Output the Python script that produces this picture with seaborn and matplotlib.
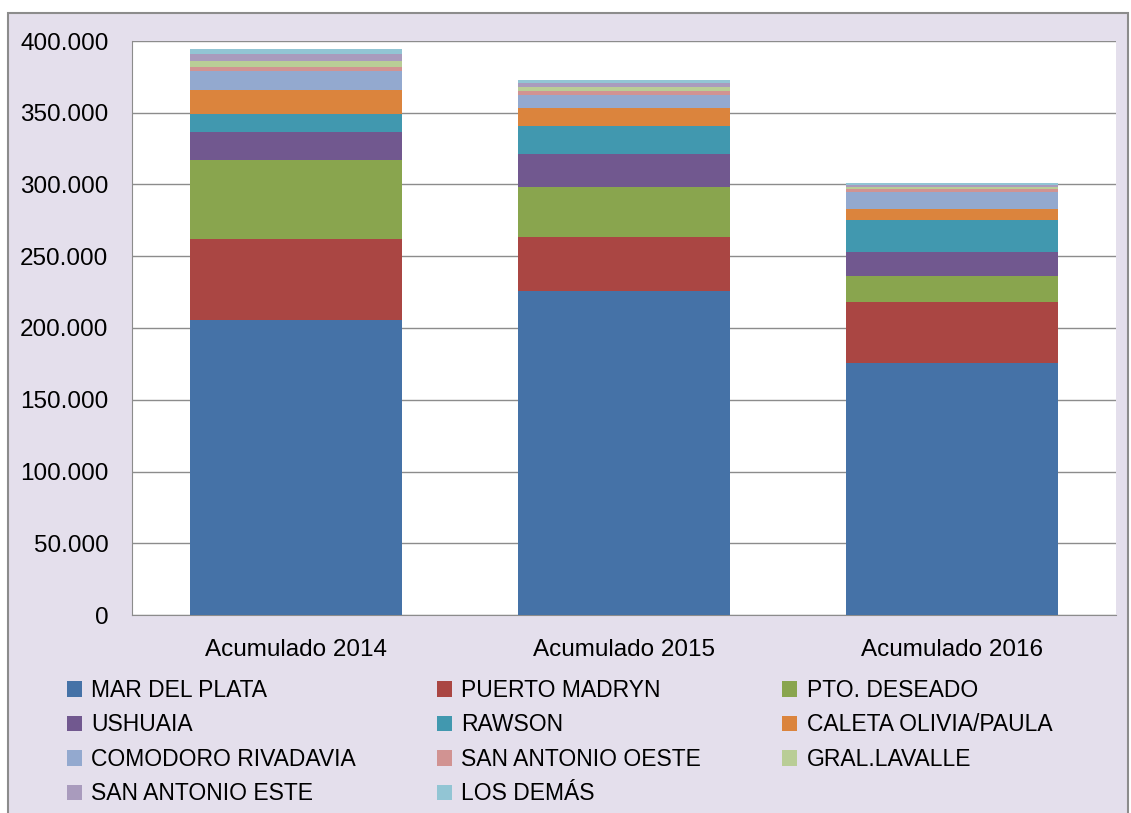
import numpy as np
import matplotlib
matplotlib.use("Agg")
import matplotlib.pyplot as plt
import seaborn as sns
from matplotlib.patches import Patch, Rectangle
from matplotlib.ticker import FuncFormatter, MultipleLocator

# -----------------------------
# Data (in units)
# -----------------------------
years = ["Acumulado 2014", "Acumulado 2015", "Acumulado 2016"]

ports = ["MAR DEL PLATA", "PUERTO MADRYN", "PTO. DESEADO", "USHUAIA", "RAWSON",
         "CALETA OLIVIA/PAULA", "COMODORO RIVADAVIA", "SAN ANTONIO OESTE",
         "GRAL.LAVALLE", "SAN ANTONIO ESTE", "LOS DEMÁS"]

mar_del_plata = [205600, 225800, 175600]
puerto_madryn = [56400, 37600, 42500]
pto_deseado = [55100, 34900, 18100]
ushuaia = [19500, 23000, 16800]
rawson = [12500, 19700, 22500]
caleta_olivia = [16800, 12500, 7200]
comodoro = [13200, 8700, 11900]
san_antonio_oeste = [2600, 3200, 2500]
gral_lavalle = [4400, 2800, 1400]
san_antonio_este = [4600, 2300, 1400]
los_demas = [3500, 2300, 1400]

series = [mar_del_plata, puerto_madryn, pto_deseado, ushuaia, rawson,
          caleta_olivia, comodoro, san_antonio_oeste, gral_lavalle,
          san_antonio_este, los_demas]

colors = ["#4572A7", "#AA4643", "#89A54E", "#71588F", "#4198AF", "#DB843D",
          "#93A9CF", "#D19392", "#B9CD96", "#A99BBD", "#92C5D4"]

font = ["Liberation Sans", "DejaVu Sans"]
plt.rcParams["font.family"] = font

# -----------------------------
# Figure
# -----------------------------
fig = plt.figure(figsize=(11.31, 8.13), dpi=100, facecolor="white")
fig.patches.append(Rectangle((8 / 1131, -0.01), 1120 / 1131, 1 - 13 / 813 + 0.01,
                             transform=fig.transFigure, facecolor="#E4DFEC",
                             edgecolor="#8C8C8C", linewidth=1.5, zorder=-5))

ax = fig.add_axes([132 / 1131, 198 / 813, 984 / 1131, 574 / 813])
ax.set_facecolor("white")
ax.set_zorder(2)

# stacked bars: draw cumulative totals, tallest first
cum = np.cumsum(np.array(series), axis=0)
for i in range(len(series) - 1, -1, -1):
    sns.barplot(x=years, y=cum[i], color=colors[i], width=0.646,
                saturation=1, ax=ax, zorder=3)

ax.set_ylim(0, 400000)
ax.yaxis.set_major_locator(MultipleLocator(50000))
ax.yaxis.set_major_formatter(FuncFormatter(lambda v, p: f"{int(v):,}".replace(",", ".")))
ax.grid(axis="y", color="#8C8C8C", linewidth=1, zorder=0)
ax.set_axisbelow(True)
for s in ["top", "right"]:
    ax.spines[s].set_visible(False)
for s in ["left", "bottom"]:
    ax.spines[s].set_color("#8C8C8C")
ax.tick_params(axis="both", labelsize=17.5, colors="#8C8C8C", labelcolor="black", length=0)
ax.tick_params(axis="y", pad=17)
ax.tick_params(axis="x", pad=17)
ax.set_xlabel("")
ax.set_ylabel("")

# legend (row-wise order like the original, matplotlib fills column-wise)
handles = [Patch(facecolor=c, label=p) for p, c in zip(ports, colors)]
order = [0, 3, 6, 9, 1, 4, 7, 10, 2, 5, 8]
fig.legend([handles[i] for i in order], [ports[i] for i in order],
           ncol=3, loc="upper left", bbox_to_anchor=(67 / 1131, 1 - 679 / 813),
           frameon=False, fontsize=16.5, handlelength=0.65, handleheight=0.65,
           handletextpad=0.4, columnspacing=3.55, labelspacing=0.5,
           borderaxespad=0, borderpad=0)

fig.savefig("out.png", dpi=100, facecolor=fig.get_facecolor())
